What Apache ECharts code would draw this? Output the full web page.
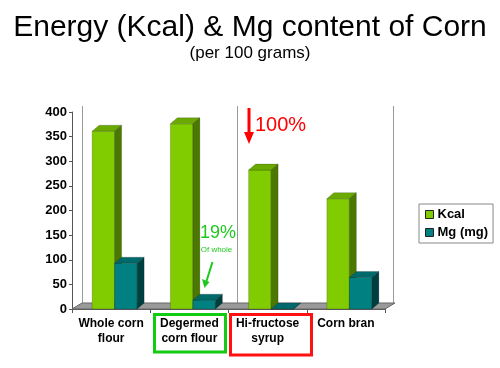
<!DOCTYPE html>
<html>
<head>
<meta charset="utf-8">
<script src="https://cdn.jsdelivr.net/npm/echarts@6/dist/echarts.min.js"></script>
<style>html,body{margin:0;padding:0;background:#fff}#chart{width:500px;height:368px}</style>
</head>
<body>
<div id="chart"></div>
<script>
const categories = ['Whole corn\nflour', 'Degermed\ncorn flour', 'Hi-fructose\nsyrup', 'Corn bran'];
const kcalValues = [361, 376, 282, 224];
const mgValues = [93, 18, 0, 64];
const yTicks = [0, 50, 100, 150, 200, 250, 300, 350, 400];

const FONT = 'Liberation Sans, Arial, sans-serif';
const BAR_DX = 7, BAR_DY = 6;
const WALL_DX = 10, WALL_DY = 6;

function barRenderer(offset, front, top, side) {
  return function (params, api) {
    const cat = api.value(0), val = api.value(1);
    const band = api.size([1, 0])[0];
    const c = api.coord([cat, val]);
    const b = api.coord([cat, 0]);
    const w = band * 0.2875;
    const x0 = c[0] + band * offset;
    const y1 = c[1], y0 = b[1];
    return {
      type: 'group',
      children: [
        { type: 'rect', shape: { x: x0, y: y1, width: w, height: y0 - y1 },
          style: { fill: front, stroke: 'rgba(0,0,0,0.35)', lineWidth: 0.5 } },
        { type: 'polygon', shape: { points: [[x0, y1], [x0 + BAR_DX, y1 - BAR_DY], [x0 + w + BAR_DX, y1 - BAR_DY], [x0 + w, y1]] },
          style: { fill: top, stroke: 'rgba(0,0,0,0.35)', lineWidth: 0.5 } },
        { type: 'polygon', shape: { points: [[x0 + w, y1], [x0 + w + BAR_DX, y1 - BAR_DY], [x0 + w + BAR_DX, y0 - BAR_DY], [x0 + w, y0]] },
          style: { fill: side, stroke: 'rgba(0,0,0,0.35)', lineWidth: 0.5 } }
      ]
    };
  };
}

function floorRenderer(params, api) {
  const cs = params.coordSys;
  const yb = cs.y + cs.height;
  return {
    type: 'polygon',
    shape: { points: [[cs.x, yb], [cs.x + cs.width, yb], [cs.x + cs.width + WALL_DX, yb - WALL_DY], [cs.x + WALL_DX, yb - WALL_DY]] },
    style: { fill: '#9a9a9a', stroke: '#666', lineWidth: 1 }
  };
}

const chart = echarts.init(document.getElementById('chart'), null, { renderer: 'canvas' });
chart.setOption({
  animation: false,
  backgroundColor: '#fff',
  title: [
    { text: 'Energy (Kcal) & Mg content of Corn', left: 'center', top: 8,
      textStyle: { fontFamily: FONT, fontSize: 30, fontWeight: 'normal', color: '#000' } },
    { text: '(per 100 grams)', left: 'center', top: 40,
      textStyle: { fontFamily: FONT, fontSize: 17, fontWeight: 'normal', color: '#000' } }
  ],
  legend: {
    orient: 'vertical', left: 419, top: 204,
    padding: [4, 5, 4, 6], itemGap: 5, itemWidth: 8, itemHeight: 8,
    borderColor: '#888', borderWidth: 1, backgroundColor: '#fff',
    icon: 'rect',
    textStyle: { fontFamily: FONT, fontSize: 13, fontWeight: 'bold', color: '#000', padding: [0, 0, 0, -1] },
    data: [
      { name: 'Kcal', itemStyle: { color: '#80cc00', borderColor: '#222', borderWidth: 1 } },
      { name: 'Mg (mg)', itemStyle: { color: '#008080', borderColor: '#222', borderWidth: 1 } }
    ]
  },
  grid: [
    { left: 72, right: 115, top: 112, bottom: 59 },
    { left: 82, right: 107, top: 106, bottom: 65 }
  ],
  xAxis: [
    { type: 'category', gridIndex: 0, data: categories,
      axisLine: { lineStyle: { color: '#555' } },
      axisTick: { show: true, length: 4, lineStyle: { color: '#555' } },
      axisLabel: { fontFamily: FONT, fontSize: 12, fontWeight: 'bold', color: '#000', lineHeight: 15, margin: 7, interval: 0 },
      splitLine: { show: false } },
    { type: 'category', gridIndex: 1, data: categories,
      axisLine: { show: false }, axisTick: { show: false }, axisLabel: { show: false },
      splitLine: { show: true, lineStyle: { color: '#999', width: 1 } } }
  ],
  yAxis: [
    { type: 'value', gridIndex: 0, min: 0, max: 400, interval: 50,
      axisLine: { show: true, lineStyle: { color: '#555' } },
      axisTick: { show: true, length: 3, lineStyle: { color: '#555' } },
      axisLabel: { fontFamily: FONT, fontSize: 13, fontWeight: 'bold', color: '#000', margin: 5,
        formatter: function (v) { return yTicks.indexOf(v) >= 0 ? String(v) : ''; } },
      splitLine: { show: false } },
    { type: 'value', gridIndex: 1, min: 0, max: 400, interval: 50,
      axisLine: { show: false }, axisTick: { show: false }, axisLabel: { show: false }, splitLine: { show: false } }
  ],
  series: [
    { type: 'custom', name: 'floor', xAxisIndex: 0, yAxisIndex: 0, z: 1, silent: true,
      renderItem: floorRenderer, data: [[0, 0]] },
    { type: 'custom', name: 'Kcal', xAxisIndex: 0, yAxisIndex: 0, z: 3,
      itemStyle: { color: '#80cc00' },
      renderItem: barRenderer(-0.243, '#80cc00', '#6aaa00', '#4a7800'),
      encode: { x: 0, y: 1 },
      data: kcalValues.map((v, i) => [i, v]) },
    { type: 'custom', name: 'Mg (mg)', xAxisIndex: 0, yAxisIndex: 0, z: 3,
      itemStyle: { color: '#008080' },
      renderItem: barRenderer(0.045, '#008080', '#006a6a', '#003f3f'),
      encode: { x: 0, y: 1 },
      data: mgValues.map((v, i) => [i, v]) }
  ],
  graphic: [
    { type: 'text', left: 200, top: 224, z: 10,
      style: { text: '19%', fontFamily: FONT, fontSize: 18, fill: '#1ec81e' } },
    { type: 'text', x: 216.5, y: 250, z: 10,
      style: { text: 'Of whole', fontFamily: FONT, fontSize: 8, fill: '#1ec81e', align: 'center', verticalAlign: 'middle' } },
    { type: 'line', z: 10, shape: { x1: 212.5, y1: 262, x2: 206.5, y2: 281 },
      style: { stroke: '#1ec81e', lineWidth: 2 } },
    { type: 'polygon', z: 10, shape: { points: [[202, 279], [209.5, 282], [204.5, 288]] },
      style: { fill: '#1ec81e' } },
    { type: 'line', z: 10, shape: { x1: 249, y1: 108, x2: 249, y2: 134 },
      style: { stroke: '#ff0000', lineWidth: 3 } },
    { type: 'polygon', z: 10, shape: { points: [[244, 132], [254, 132], [249, 144]] },
      style: { fill: '#ff0000' } },
    { type: 'text', x: 255, y: 125, z: 10,
      style: { text: '100%', fontFamily: FONT, fontSize: 20, fill: '#ff0000', verticalAlign: 'middle' } },
    { type: 'rect', z: 10, shape: { x: 154.5, y: 314.5, width: 71, height: 37.5 },
      style: { fill: 'none', stroke: '#11cc11', lineWidth: 3 } },
    { type: 'rect', z: 10, shape: { x: 230.5, y: 314.5, width: 81, height: 40.5 },
      style: { fill: 'none', stroke: '#ff1111', lineWidth: 3 } }
  ]
});
</script>
</body>
</html>
